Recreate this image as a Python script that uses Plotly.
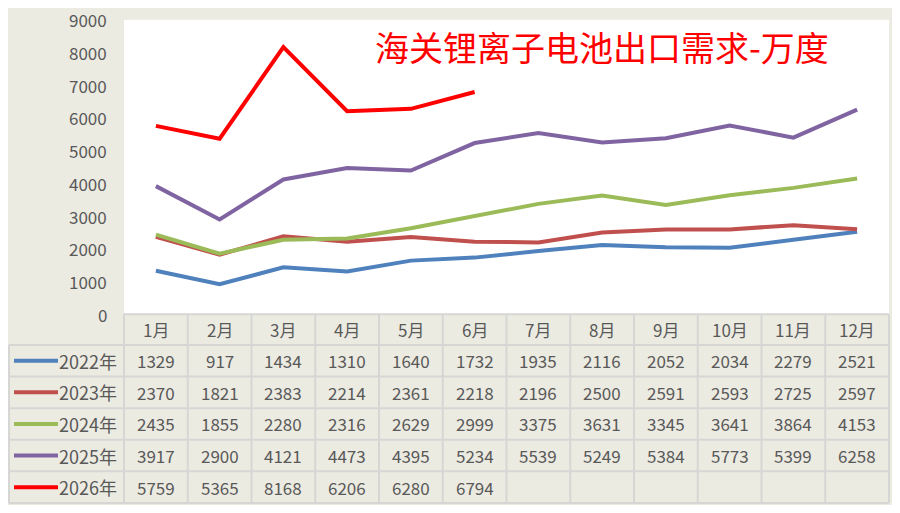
import plotly.graph_objects as go

# 海关锂离子电池出口需求 (万度)
months = ["1月", "2月", "3月", "4月", "5月", "6月", "7月", "8月", "9月", "10月", "11月", "12月"]
years = ["2022年", "2023年", "2024年", "2025年", "2026年"]

y2022 = [1329, 917, 1434, 1310, 1640, 1732, 1935, 2116, 2052, 2034, 2279, 2521]
y2023 = [2370, 1821, 2383, 2214, 2361, 2218, 2196, 2500, 2591, 2593, 2725, 2597]
y2024 = [2435, 1855, 2280, 2316, 2629, 2999, 3375, 3631, 3345, 3641, 3864, 4153]
y2025 = [3917, 2900, 4121, 4473, 4395, 5234, 5539, 5249, 5384, 5773, 5399, 6258]
y2026 = [5759, 5365, 8168, 6206, 6280, 6794]
yticks = [0, 1000, 2000, 3000, 4000, 5000, 6000, 7000, 8000, 9000]

colors = ["#4F81BD", "#C0504D", "#9BBB59", "#8064A2", "#FF0000"]
series = [y2022, y2023, y2024, y2025, y2026]

# the page puts the figure 8px in from the window edge, so the figure is
# sized to fit the window exactly and layout positions are given in window pixels
W, H = 884, 497
OFF = 8
K = 0.988  # slight vertical squeeze so the table bottom stays on screen
BG = "#ECEBE2"
GRID = "#D6D6D4"
TXT = "#595959"
FONT = "Noto Sans CJK SC"

# window-pixel layout of the plot area and the data table underneath
plot_l, plot_r, plot_t, plot_b = 124, 889, 20, 318
lab_l = 9
row_edges = [318, 349, 381, 413, 445, 477, 509]
col_w = (plot_r - plot_l) / len(months)


def px(x):
    return (x - OFF) / W


def py(y):
    return 1 - (y - OFF) * K / H


fig = go.Figure()
for name, vals, c in zip(years, series, colors):
    fig.add_trace(go.Scatter(x=months[:len(vals)], y=vals, mode="lines", name=name,
                             line=dict(color=c, width=4), showlegend=False))

shapes = []
annotations = []
line_style = dict(color=GRID, width=2)


def label(x, y, text, size=17, color=TXT, xanchor="center"):
    annotations.append(dict(x=px(x), y=py(y), xref="paper", yref="paper", text=text,
                            showarrow=False, xanchor=xanchor, yanchor="middle",
                            font=dict(size=size, color=color, family=FONT)))


# y tick labels (plotly drops the top one at the figure edge, so draw them as annotations)
for t in yticks:
    annotations.append(dict(x=px(109), y=t, xref="paper", yref="y", text=str(t),
                            showarrow=False, xanchor="right", yanchor="middle",
                            font=dict(size=17, color=TXT, family=FONT)))

# table grid
shapes.append(dict(type="line", xref="paper", yref="paper", x0=px(plot_l), x1=px(plot_r),
                   y0=py(row_edges[0]), y1=py(row_edges[0]), line=line_style))
for yy in row_edges[1:]:
    shapes.append(dict(type="line", xref="paper", yref="paper", x0=px(lab_l), x1=px(plot_r),
                       y0=py(yy), y1=py(yy), line=line_style))
for i in range(len(months) + 1):
    xx = plot_l + i * col_w
    shapes.append(dict(type="line", xref="paper", yref="paper", x0=px(xx), x1=px(xx),
                       y0=py(row_edges[0]), y1=py(row_edges[-1]), line=line_style))
shapes.append(dict(type="line", xref="paper", yref="paper", x0=px(lab_l), x1=px(lab_l),
                   y0=py(row_edges[1]), y1=py(row_edges[-1]), line=line_style))

# header row
for i, m in enumerate(months):
    label(plot_l + (i + 0.5) * col_w, (row_edges[0] + row_edges[1]) / 2, m)

# data rows with legend keys
for r, (name, vals, c) in enumerate(zip(years, series, colors)):
    yc = (row_edges[r + 1] + row_edges[r + 2]) / 2
    shapes.append(dict(type="line", xref="paper", yref="paper", x0=px(14), x1=px(58),
                       y0=py(yc), y1=py(yc), line=dict(color=c, width=4)))
    label(119, yc, name, size=18, xanchor="right")
    for i, v in enumerate(vals):
        label(plot_l + (i + 0.5) * col_w, yc, str(v))

# title
label(602, 47, "海关锂离子电池出口需求-万度", size=34, color="#FF0000")

fig.update_layout(
    width=W, height=H,
    autosize=False,
    margin=dict(l=0, r=0, t=0, b=0, pad=0, autoexpand=False),
    paper_bgcolor=BG, plot_bgcolor="white",
    xaxis=dict(domain=[px(plot_l), px(plot_r)], range=[-0.5, 11.5], showticklabels=False,
               showgrid=False, zeroline=False, showline=False, ticks="", automargin=False),
    yaxis=dict(domain=[py(plot_b), py(plot_t)], range=[0, 9000], showticklabels=False,
               showgrid=False, zeroline=False, showline=False, ticks="", automargin=False),
    shapes=shapes,
    annotations=annotations,
)

fig.write_html("out.html")
